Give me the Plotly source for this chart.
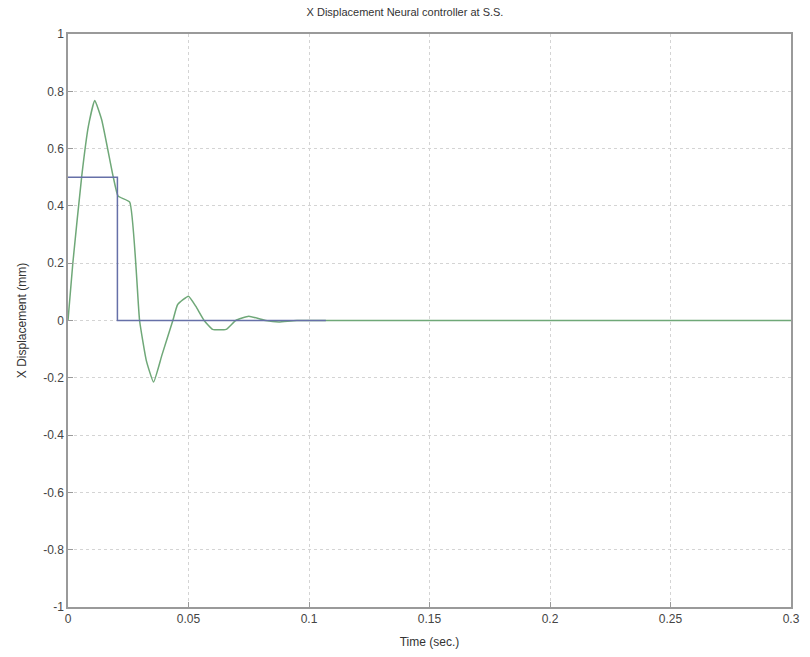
import plotly.graph_objects as go

# Green: system response
t_resp = [0.0, 0.002, 0.0057, 0.0085, 0.0111, 0.014, 0.0187, 0.0208, 0.0256, 0.0297,
          0.0325, 0.0355, 0.039, 0.0435, 0.0455, 0.050, 0.053, 0.0565, 0.060, 0.0656,
          0.0696, 0.075, 0.082, 0.0875, 0.095, 0.3]
x_resp = [0.0, 0.2, 0.504, 0.68, 0.768, 0.70, 0.504, 0.434, 0.413, 0.0,
          -0.14, -0.215, -0.12, 0.0, 0.056, 0.085, 0.05, 0.0, -0.031, -0.031,
          0.0, 0.015, 0.0, -0.005, 0.0, 0.0]

# Blue: reference input
t_ref = [0.0, 0.0205, 0.0205, 0.107]
x_ref = [0.5, 0.5, 0.0, 0.0]

x_ticks = [0, 0.05, 0.1, 0.15, 0.2, 0.25, 0.3]
x_tick_labels = ["0", "0.05", "0.1", "0.15", "0.2", "0.25", "0.3"]
y_ticks = [-1, -0.8, -0.6, -0.4, -0.2, 0, 0.2, 0.4, 0.6, 0.8, 1]
y_tick_labels = ["-1", "-0.8", "-0.6", "-0.4", "-0.2", "0", "0.2", "0.4", "0.6", "0.8", "1"]

fig = go.Figure()
fig.add_trace(go.Scatter(x=t_resp, y=x_resp, mode="lines", line_shape="spline",
                         line=dict(color="#6fa878", width=1.5, smoothing=0.4), showlegend=False))
fig.add_trace(go.Scatter(x=t_ref, y=x_ref, mode="lines",
                         line=dict(color="#6670a8", width=1.5), showlegend=False))

axis_common = dict(showgrid=True, gridcolor="#d4d4d4", griddash="dot", gridwidth=1,
                   showline=True, linecolor="#9a9a9a", linewidth=1.5, mirror=True,
                   ticks="inside", ticklen=5, tickcolor="#9a9a9a", zeroline=False,
                   tickfont=dict(family="Liberation Sans, Arial", size=12, color="#444"))

fig.update_layout(
    width=810, height=657,
    margin=dict(l=68, r=10, t=34, b=48),
    paper_bgcolor="white", plot_bgcolor="white",
    title=dict(text="X Displacement Neural controller at S.S.", x=0.5, xanchor="center",
               y=0.988, yanchor="top",
               font=dict(family="Liberation Sans, Arial", size=11, color="#333")),
    xaxis=dict(range=[0, 0.3], tickvals=x_ticks, ticktext=x_tick_labels,
               title=dict(text="Time (sec.)", standoff=12,
                          font=dict(family="Liberation Sans, Arial", size=12, color="#333")),
               **axis_common),
    yaxis=dict(range=[-1, 1], tickvals=y_ticks, ticktext=y_tick_labels,
               title=dict(text="X Displacement (mm)", standoff=14,
                          font=dict(family="Liberation Sans, Arial", size=12, color="#333")),
               **axis_common),
)

fig.write_html("out.html")
